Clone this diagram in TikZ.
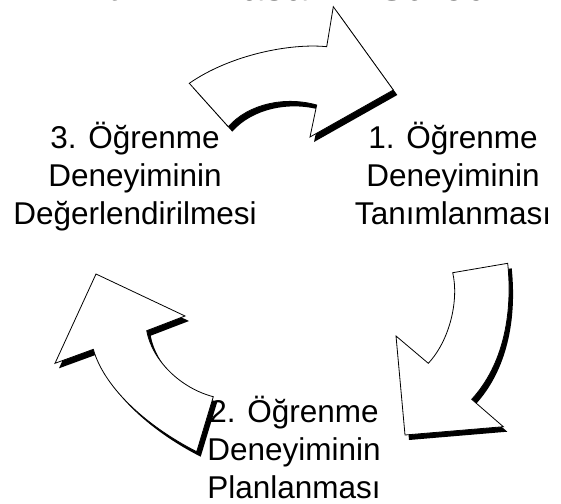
\documentclass[tikz,border=0pt]{standalone}
\usepackage{fontspec}
\setmainfont{Liberation Sans}
\usetikzlibrary{shadows}
\tikzset{my arrow/.style={draw, line width=0.8pt, fill=white, line join=miter,
    drop shadow={shadow xshift=4pt, shadow yshift=-5pt, fill=black, opacity=1}},
  my label/.style={align=center, inner sep=0pt, anchor=base, font=\fontsize{31.5}{37.7}\selectfont},}

\begin{document}
\begin{tikzpicture}[x=1pt, y=-1pt]
\useasboundingbox (0,0) rectangle (561,503);
\clip (0,0) rectangle (561,503);
\node (title) [overlay, anchor=base, inner sep=0pt, font=\fontsize{41}{49}\selectfont] at (287.5,0.5) {Etkinlik Tasarım Süreci};
% arrows
\path [my arrow] (189.3,83.3) .. controls (230,55) and (290,43) .. (326.7,46.7) -- (333.3,6.7) -- (393.3,90) -- (310,137) -- (316.7,105) .. controls (285,96) and (248,104) .. (228.3,126.7) -- cycle;
\path [my arrow] (452.7,272.7) -- (507.7,263.3) .. controls (513,315) and (503,365) .. (471.7,399.3) -- (503.3,426.7) -- (405,435) -- (396,336) -- (428.3,363.3) .. controls (450,340) and (459,300) .. cycle;
\path [my arrow] (96,274) -- (185,316) -- (146.7,330.7) .. controls (152,360) and (180,388) .. (213.3,396.7) -- (196.7,451.7) .. controls (150,428) and (105,390) .. (93.3,349.3) -- (55,363.3) -- cycle;
% labels
\node (tanim) [my label] at (453,224) {1. Öğrenme\\Deneyiminin\\Tanımlanması};
\node (plan) [my label] at (294,498.3) {2. Öğrenme\\Deneyiminin\\Planlanması};
\node (deger) [my label] at (135,224) {3. Öğrenme\\Deneyiminin\\Değerlendirilmesi};
\end{tikzpicture}
\end{document}
